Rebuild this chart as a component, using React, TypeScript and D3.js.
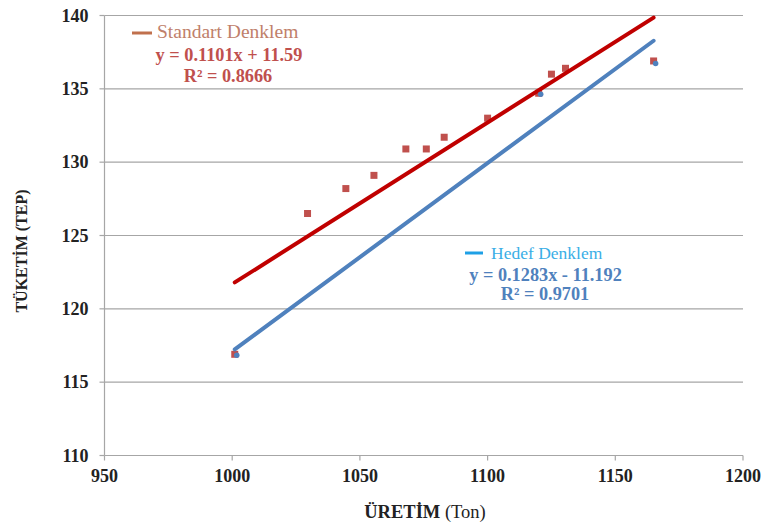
import React from "react";
import * as d3 from "d3";

const standardX = [1001, 1029.5, 1044.5, 1055.5, 1068, 1076, 1083, 1100, 1120, 1125, 1130.5, 1165];
const standardY = [116.9, 126.5, 128.2, 129.1, 130.9, 130.9, 131.7, 133.0, 134.7, 136.0, 136.4, 136.9];
const targetX = [1001, 1120, 1165];
const targetY = [116.9, 134.7, 136.8];

const standardFit = { slope: 0.1101, intercept: 11.59, label: "y = 0.1101x + 11.59", r2: "R² = 0.8666" };
const targetFit = { slope: 0.1283, intercept: -11.192, label: "y = 0.1283x - 11.192", r2: "R² = 0.9701" };

const xTicks = [950, 1000, 1050, 1100, 1150, 1200];
const yTicks = [110, 115, 120, 125, 130, 135, 140];

const W = 766;
const H = 524;
const serif = "Liberation Serif";

const App = () => {
  const x = d3.scaleLinear().domain([950, 1200]).range([104.5, 743]);
  const y = d3.scaleLinear().domain([110, 140]).range([455.5, 15.5]);

  const fitLine = (fit, xs) => {
    const ext = d3.extent(xs);
    const pts = ext.map((v) => [x(v), y(fit.slope * v + fit.intercept)]);
    return d3.line()(pts);
  };

  const square = d3.symbol().type(d3.symbolSquare).size(49)();
  const dot = d3.symbol().type(d3.symbolCircle).size(24)();

  return (
    <svg width={W} height={H} style={{ position: "absolute", left: 0, top: 0 }}>
      {yTicks.map((t) => (
        <g key={t}>
          {t > 110 && <line x1={x(950)} x2={x(1200)} y1={y(t)} y2={y(t)} stroke="#A6A6A6" strokeWidth={1.2} />}
          <line x1={x(950) - 5} x2={x(950)} y1={y(t)} y2={y(t)} stroke="#A6A6A6" strokeWidth={1.2} />
          <text x={x(950) - 16} y={y(t) + 6} textAnchor="end" fontSize={18} fontWeight="bold" fill="#222" style={{ fontFamily: serif }}>
            {t}
          </text>
        </g>
      ))}
      <line x1={x(950)} x2={x(950)} y1={y(140)} y2={y(110)} stroke="#A6A6A6" strokeWidth={1.2} />
      <line x1={x(950)} x2={x(1200)} y1={y(110)} y2={y(110)} stroke="#A6A6A6" strokeWidth={1.2} />
      {xTicks.map((t) => (
        <g key={t}>
          <line x1={x(t)} x2={x(t)} y1={y(110)} y2={y(110) + 5} stroke="#A6A6A6" strokeWidth={1.2} />
          <text x={x(t)} y={y(110) + 26} textAnchor="middle" fontSize={18} fontWeight="bold" fill="#222" style={{ fontFamily: serif }}>
            {t}
          </text>
        </g>
      ))}

      {standardX.map((v, i) => (
        <path key={"s" + i} d={square} transform={`translate(${x(v)},${y(standardY[i])})`} fill="#C0504D" />
      ))}

      <path d={fitLine(standardFit, standardX)} stroke="#C00000" strokeWidth={4} strokeLinecap="round" fill="none" />
      <path d={fitLine(targetFit, targetX)} stroke="#4F81BD" strokeWidth={4} strokeLinecap="round" fill="none" />

      {targetX.map((v, i) => (
        <path key={"t" + i} d={dot} transform={`translate(${x(v) + 2},${y(targetY[i]) + 1})`} fill="#4F81BD" />
      ))}

      <text transform={`translate(27,251) rotate(-90)`} textAnchor="middle" fontSize={16} fontWeight="bold" fill="#222" style={{ fontFamily: serif }}>
        TÜKETİM (TEP)
      </text>
      <text x={425} y={518} textAnchor="middle" fontSize={18.5} fill="#222" style={{ fontFamily: serif }}>
        <tspan fontWeight="bold">ÜRETİM</tspan> (Ton)
      </text>

      <line x1={132} x2={152} y1={33} y2={33} stroke="#C0704D" strokeWidth={3} />
      <text x={157} y={38} fontSize={19.5} fill="#C0806A" style={{ fontFamily: serif }}>Standart Denklem</text>
      <text x={229} y={61} textAnchor="middle" fontSize={18.3} fontWeight="bold" fill="#C0504D" style={{ fontFamily: serif }}>{standardFit.label}</text>
      <text x={228} y={82} textAnchor="middle" fontSize={18.3} fontWeight="bold" fill="#C0504D" style={{ fontFamily: serif }}>{standardFit.r2}</text>

      <line x1={465} x2={483} y1={253} y2={253} stroke="#1EA0E6" strokeWidth={3} />
      <text x={491} y={259} fontSize={17.5} fill="#3AAEE6" style={{ fontFamily: serif }}>Hedef Denklem</text>
      <text x={545.5} y={281} textAnchor="middle" fontSize={18.3} fontWeight="bold" fill="#4F81BD" style={{ fontFamily: serif }}>{targetFit.label}</text>
      <text x={545} y={300} textAnchor="middle" fontSize={18.3} fontWeight="bold" fill="#4F81BD" style={{ fontFamily: serif }}>{targetFit.r2}</text>
    </svg>
  );
};

export default App;
